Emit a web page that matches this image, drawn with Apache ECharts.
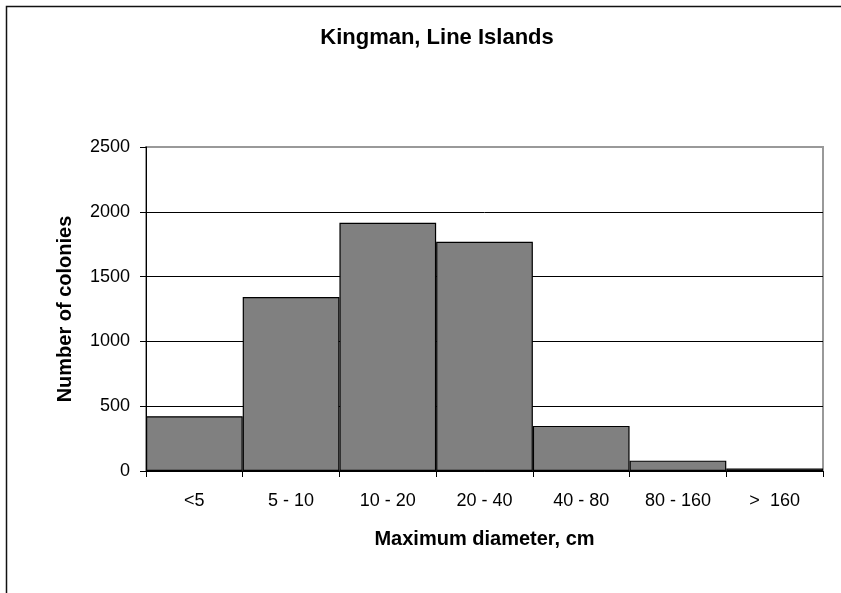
<!DOCTYPE html>
<html>
<head>
<meta charset="utf-8">
<script src="https://cdn.jsdelivr.net/npm/echarts@6/dist/echarts.min.js"></script>
<style>html,body{margin:0;padding:0;background:#fff;}#c{width:841px;height:593px;}</style>
</head>
<body>
<div id="c"></div>
<script>
const categories = ['<5', '5 - 10', '10 - 20', '20 - 40', '40 - 80', '80 - 160', '>  160'];
const colonies = [423, 1342, 1915, 1768, 348, 80, 20];
const yMin = 0, yMax = 2500, yStep = 500;

const chart = echarts.init(document.getElementById('c'), null, {renderer: 'canvas'});
const font = '"Liberation Sans", Arial, sans-serif';
chart.setOption({
  animation: false,
  backgroundColor: '#fff',
  title: {
    text: 'Kingman, Line Islands',
    left: 437, top: 27, padding: 0, textAlign: 'center',
    textStyle: {fontFamily: font, fontSize: 22, fontWeight: 'bold', color: '#000'}
  },
  graphic: [{
    type: 'rect', silent: true,
    shape: {x: 6.5, y: 6.5, width: 1200, height: 1200},
    style: {fill: 'none', stroke: '#111', lineWidth: 1.5}
  }],
  grid: {left: 146, right: 18, top: 147, bottom: 122, show: true, borderColor: '#999', borderWidth: 2, backgroundColor: 'transparent'},
  xAxis: {
    type: 'category', data: categories,
    name: 'Maximum diameter, cm', nameLocation: 'middle', nameGap: 58,
    nameTextStyle: {fontFamily: font, fontSize: 20, fontWeight: 'bold', color: '#000'},
    axisLine: {lineStyle: {color: '#000', width: 1}},
    axisTick: {show: true, length: 6, lineStyle: {color: '#000'}},
    axisLabel: {fontFamily: font, fontSize: 18, color: '#000', margin: 21}
  },
  yAxis: {
    type: 'value', min: yMin, max: yMax, interval: yStep,
    name: 'Number of colonies', nameLocation: 'middle', nameGap: 71,
    nameTextStyle: {fontFamily: font, fontSize: 20, fontWeight: 'bold', color: '#000'},
    axisLine: {show: true, lineStyle: {color: '#000', width: 1}},
    axisTick: {show: true, length: 6, lineStyle: {color: '#000'}},
    axisLabel: {fontFamily: font, fontSize: 18, color: '#000', margin: 16, formatter: v => String(v)},
    splitLine: {show: true, lineStyle: {color: ['#000', '#000', '#000', '#000', '#000', '#999'], width: 1}}
  },
  series: [{
    type: 'bar', data: colonies,
    barCategoryGap: '0%',
    itemStyle: {color: '#808080', borderColor: '#000', borderWidth: 1.2}
  }]
});
</script>
</body>
</html>
